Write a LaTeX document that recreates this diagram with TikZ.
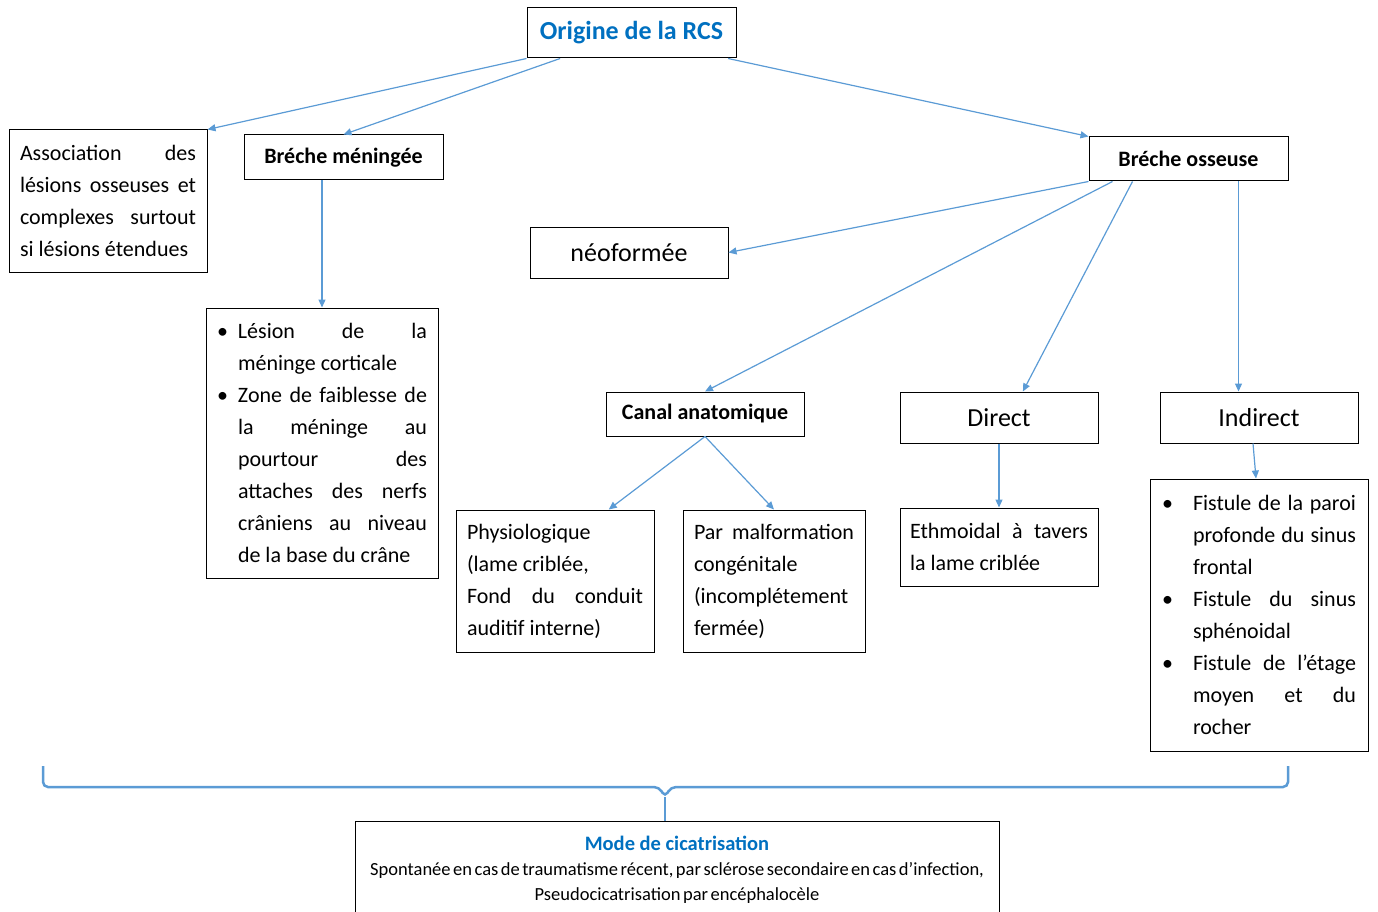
\documentclass[tikz,border=0pt]{standalone}
\usepackage{fontspec}
\setmainfont{Carlito}
\newfontfamily\serre[WordSpace=0.6]{Carlito}
\usepackage{xcolor}
\usepackage{tikz}
\usetikzlibrary{arrows.meta, positioning, calc}
\definecolor{rcsbleu}{RGB}{0,112,192}
\definecolor{fleche}{RGB}{91,155,213}
\newcommand{\corps}{\fontsize{22}{32}\selectfont}
\newcommand{\grand}{\fontsize{26}{30}\selectfont}
\newcommand{\puce}[2]{\noindent\hangindent=#1\hangafter=1\hbox to #1{\textbullet\hfil}#2\par}
\setlength{\parindent}{0pt}
\hbadness=10000

\begin{document}
\begin{tikzpicture}[
    x=1pt, y=-1pt,
    boite/.style={draw, rectangle, line width=1pt, inner sep=0pt, align=center, font=\corps},
    tete/.style={boite, font=\corps\bfseries},
    gros/.style={boite, font=\grand},
    texte/.style={boite, align=justify, inner xsep=11pt},
    arr/.style={-{Triangle[length=8pt, width=7pt]}, draw=fleche, line width=1.2pt},
    accolade/.style={draw=fleche, line width=2.5pt, rounded corners=5pt}
]
\clip (0,0) rectangle (1378,912);
\node[boite, minimum width=209pt, minimum height=50pt, font=\fontsize{26}{30}\selectfont\bfseries, text=rcsbleu] (origine) at (631.5,33) {Origine de la RCS};
\node[texte, minimum width=198pt, minimum height=142pt, text width=176pt] (assoc) at (108,201) {Association des\linebreak lésions osseuses et\linebreak complexes surtout\linebreak si lésions étendues};
\node[tete, minimum width=199pt, minimum height=45pt] (bmen) at (343.5,157.5) {Bréche méningée};
\node[tete, minimum width=199pt, minimum height=44pt] (boss) at (1188.5,159) {Bréche osseuse};
\node[gros, minimum width=198pt, minimum height=51pt] (neo) at (629,252.5) {néoformée};
\node[texte, minimum width=232pt, minimum height=270pt, text width=210pt] (lesion) at (322,443) {\puce{21pt}{Lésion de la\linebreak méninge corticale}\puce{21pt}{Zone de faiblesse de\linebreak la méninge au\linebreak pourtour des\linebreak attaches des nerfs\linebreak crâniens au niveau\linebreak de la base du crâne}};
\node[tete, minimum width=198pt, minimum height=44pt] (canal) at (705,414) {Canal anatomique};
\node[gros, minimum width=198pt, minimum height=51pt] (direct) at (999,417.5) {Direct};
\node[gros, minimum width=198pt, minimum height=51pt] (indirect) at (1259,417.5) {Indirect};
\node[texte, minimum width=198pt, minimum height=142pt, text width=176pt] (phys) at (555,581) {Physiologique\newline (lame criblée,\newline Fond du conduit\linebreak auditif interne)};
\node[texte, minimum width=182pt, minimum height=142pt, text width=160pt] (malf) at (774,581) {Par malformation\linebreak congénitale\linebreak (incomplétement\linebreak fermée)};
\node[texte, minimum width=198pt, minimum height=78pt, text width=178pt, inner xsep=10pt] (ethm) at (999,547) {Ethmoidal à tavers\linebreak la lame criblée};
\node[texte, minimum width=218pt, minimum height=272pt, text width=194pt, inner xsep=12pt] (fist) at (1259,615) {\puce{31pt}{Fistule de la paroi\linebreak profonde du sinus\linebreak frontal}\puce{31pt}{Fistule du sinus\linebreak sphénoidal}\puce{31pt}{Fistule de l’étage\linebreak moyen et du\linebreak rocher}};
\node[boite, anchor=north, minimum width=644pt, minimum height=96pt, text width=644pt] (mode) at (677,821) {\centering\spaceskip=0pt\xspaceskip=0pt{\fontsize{20.5}{25}\selectfont\bfseries\color{rcsbleu}Mode de cicatrisation\par}{\serre\fontsize{18.5}{25}\selectfont Spontanée en cas de traumatisme récent, par sclérose secondaire en cas d’infection,\par Pseudocicatrisation par encéphalocèle\par}};
\draw[arr] (origine.south west) -- (assoc.north east);
\draw[arr] ($(origine.south west)!0.16!(origine.south east)$) -- (bmen.north);
\draw[arr] ($(origine.south west)!0.96!(origine.south east)$) -- (boss.north west);
\draw[arr] (bmen.south -| lesion.north) -- (lesion.north);
\draw[arr] (boss.south west) -- (neo.east);
\draw[arr] ($(boss.south west)!0.12!(boss.south east)$) -- (canal.north);
\draw[arr] ($(boss.south west)!0.22!(boss.south east)$) -- ($(direct.north west)!0.62!(direct.north east)$);
\draw[arr] ($(boss.south west)!0.75!(boss.south east)$) coordinate (b4) -- (b4 |- indirect.north);
\draw[arr] (canal.south) -- ($(phys.north west)!0.77!(phys.north east)$);
\draw[arr] (canal.south) -- (malf.north);
\draw[arr] (direct.south) -- (ethm.north);
\draw[arr] ($(indirect.south)+(-6,0)$) -- ($(fist.north)+(-3,0)$);
\coordinate (pointe) at (665,797);
\draw[accolade] (43,766) -- (43,787) -- (659,787) -- (pointe) -- (671,787) -- (1288,787) -- (1288,766);
\draw[draw=fleche, line width=1.5pt] (pointe) -- (pointe |- mode.north);
\end{tikzpicture}
\end{document}
